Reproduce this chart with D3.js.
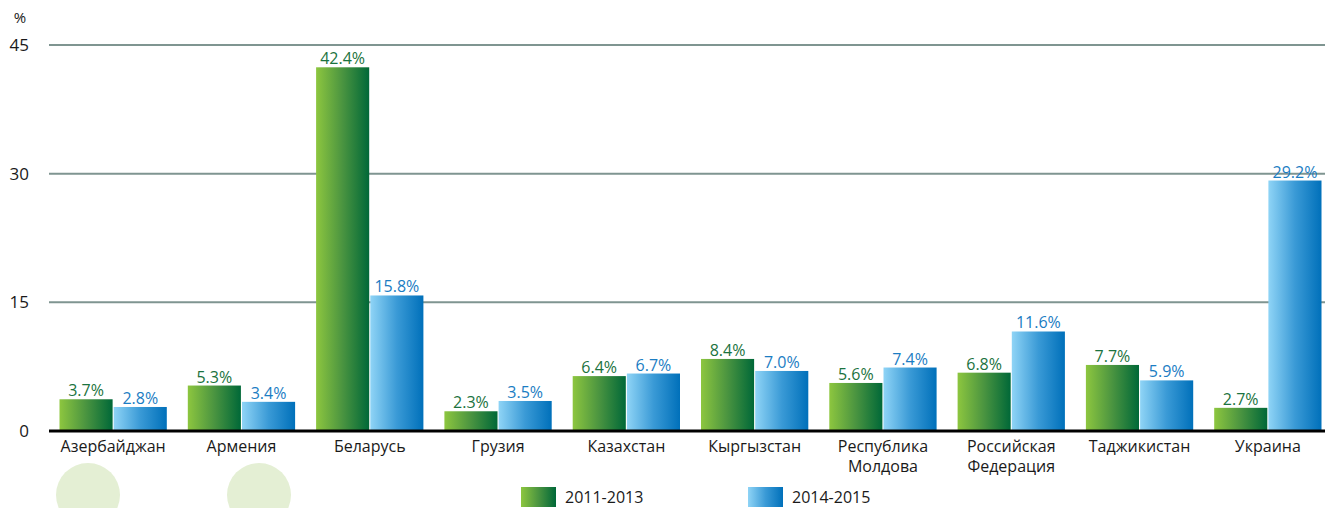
<!DOCTYPE html>
<html>
<head>
<meta charset="utf-8">
<script src="https://cdn.jsdelivr.net/npm/d3@7"></script>
<style>
  body { margin: 0; background: #fff; }
  svg { display: block; font-family: "Open Sans", "Noto Sans", sans-serif; }
</style>
</head>
<body>
<svg id="chart" width="1325" height="508"></svg>
<script>
// data
const categories = ["Азербайджан", "Армения", "Беларусь", "Грузия", "Казахстан",
  "Кыргызстан", "Республика\nМолдова", "Российская\nФедерация", "Таджикистан", "Украина"];
const series = ["2011-2013", "2014-2015"];
const values2011 = [3.7, 5.3, 42.4, 2.3, 6.4, 8.4, 5.6, 6.8, 7.7, 2.7];
const values2015 = [2.8, 3.4, 15.8, 3.5, 6.7, 7.0, 7.4, 11.6, 5.9, 29.2];
const yTicks = [0, 15, 30, 45];

const svg = d3.select("#chart");
const W = 1325;

const y = d3.scaleLinear().domain([0, 45]).range([431, 45]);
const x0 = d3.scaleBand().domain(categories).range([49, 1332]).padding(0);
const x1 = d3.scaleBand().domain(series).range([10.5, 117.8]).paddingInner(0.02);

// gradients
const defs = svg.append("defs");
const grads = [
  { id: "g0", stops: ["#8dc63f", "#4a9440", "#006838"] },
  { id: "g1", stops: ["#8fd4f6", "#3a9ad6", "#0070ba"] }
];
grads.forEach(g => {
  const lg = defs.append("linearGradient").attr("id", g.id)
    .attr("x1", 0).attr("x2", 1).attr("y1", 0).attr("y2", 0);
  g.stops.forEach((c, i) => lg.append("stop")
    .attr("offset", i / (g.stops.length - 1)).attr("stop-color", c));
});
const fills = ["url(#g0)", "url(#g1)"];
const textColors = ["#1b7340", "#1b7dc3"];

// decorative circles
svg.selectAll("circle.deco").data([88, 259]).enter().append("circle")
  .attr("class", "deco").attr("cx", d => d).attr("cy", 495).attr("r", 32)
  .attr("fill", "#e4efd4");

// grid
svg.selectAll("line.grid").data(yTicks.filter(d => d > 0)).enter().append("line")
  .attr("class", "grid")
  .attr("x1", 49).attr("x2", W)
  .attr("y1", d => y(d)).attr("y2", d => y(d))
  .attr("stroke", "#7f9591").attr("stroke-width", 2);

// y labels
svg.selectAll("text.ytick").data(yTicks).enter().append("text")
  .attr("class", "ytick")
  .attr("x", 29).attr("y", d => y(d) + 6)
  .attr("text-anchor", "end").attr("font-size", 17).attr("fill", "#1a1a1a")
  .text(d => d);
svg.append("text").attr("x", 20).attr("y", 23).attr("text-anchor", "middle")
  .attr("font-size", 15).attr("fill", "#1a1a1a").text("%");

// bars
const rows = categories.map((c, i) => ({ c, vals: [values2011[i], values2015[i]] }));
const groups = svg.selectAll("g.cat").data(rows).enter().append("g")
  .attr("class", "cat")
  .attr("transform", d => `translate(${x0(d.c)},0)`);

groups.selectAll("rect").data(d => d.vals.map((v, i) => ({ v, s: series[i], i })))
  .enter().append("rect")
  .attr("x", d => x1(d.s)).attr("width", x1.bandwidth())
  .attr("y", d => y(d.v)).attr("height", d => y(0) - y(d.v))
  .attr("fill", d => fills[d.i]);

groups.selectAll("text.val").data(d => d.vals.map((v, i) => ({ v, s: series[i], i })))
  .enter().append("text")
  .attr("class", "val")
  .attr("x", d => x1(d.s) + x1.bandwidth() / 2).attr("y", d => y(d.v) - 3)
  .attr("text-anchor", "middle").attr("font-size", 16)
  .attr("fill", d => textColors[d.i])
  .text(d => d.v.toFixed(1) + "%");

// zero axis
svg.append("line").attr("x1", 49).attr("x2", W).attr("y1", y(0)).attr("y2", y(0))
  .attr("stroke", "#000").attr("stroke-width", 3);

// category labels
groups.append("text")
  .attr("x", x0.bandwidth() / 2).attr("y", 452)
  .attr("text-anchor", "middle").attr("font-size", 16).attr("fill", "#1a1a1a")
  .each(function(d) {
    const lines = d.c.split("\n");
    d3.select(this).selectAll("tspan").data(lines).enter().append("tspan")
      .attr("x", x0.bandwidth() / 2).attr("dy", (l, i) => i === 0 ? 0 : 20)
      .text(l => l);
  });

// legend
const legX = [521, 748];
series.forEach((s, i) => {
  svg.append("rect").attr("x", legX[i]).attr("y", 487).attr("width", 35).attr("height", 20)
    .attr("fill", fills[i]);
  svg.append("text").attr("x", legX[i] + 44).attr("y", 503)
    .attr("font-size", 16).attr("fill", "#1a1a1a").text(s);
});
</script>
</body>
</html>
